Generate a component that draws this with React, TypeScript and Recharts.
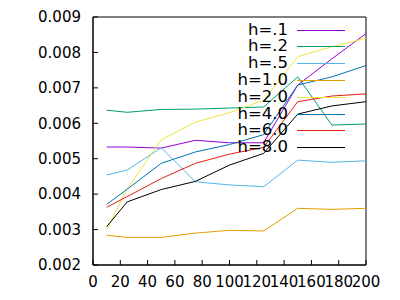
import { LineChart, Line, XAxis, YAxis, Legend, ReferenceArea } from "recharts"

// x positions of the samples
const xs = [10, 25, 50, 75, 100, 125, 150, 175, 200]

// one series per h value
const h01 = [0.00533, 0.00533, 0.0053, 0.00552, 0.00545, 0.00545, 0.00708, 0.00782, 0.00853]
const h02 = [0.00637, 0.00631, 0.00639, 0.0064, 0.00643, 0.00646, 0.00731, 0.00595, 0.00598]
const h05 = [0.00454, 0.00468, 0.00531, 0.00435, 0.00426, 0.00421, 0.00496, 0.0049, 0.00494]
const h10 = [0.00284, 0.00278, 0.00278, 0.0029, 0.00298, 0.00296, 0.0036, 0.00357, 0.0036]
const h20 = [0.00299, 0.00415, 0.00553, 0.00603, 0.0063, 0.00665, 0.00788, 0.00816, 0.0084]
const h40 = [0.00371, 0.00414, 0.00487, 0.00519, 0.0054, 0.00568, 0.00708, 0.00731, 0.00763]
const h60 = [0.00363, 0.00393, 0.00444, 0.00487, 0.00513, 0.00532, 0.00661, 0.00677, 0.00683]
const h80 = [0.00308, 0.00378, 0.00413, 0.00436, 0.00482, 0.00515, 0.00626, 0.00649, 0.00661]

const xTicks = [0, 20, 40, 60, 80, 100, 120, 140, 160, 180, 200]
const yTicks = [0.002, 0.003, 0.004, 0.005, 0.006, 0.007, 0.008, 0.009]

const SERIES = [
  { key: "h01", name: "h=.1", color: "#9400d3", values: h01 },
  { key: "h02", name: "h=.2", color: "#009e73", values: h02 },
  { key: "h05", name: "h=.5", color: "#56b4e9", values: h05 },
  { key: "h10", name: "h=1.0", color: "#e69f00", values: h10 },
  { key: "h20", name: "h=2.0", color: "#f0e442", values: h20 },
  { key: "h40", name: "h=4.0", color: "#0072b2", values: h40 },
  { key: "h60", name: "h=6.0", color: "#e51e10", values: h60 },
  { key: "h80", name: "h=8.0", color: "#000000", values: h80 },
]

const data = xs.map((x, i) => {
  const row: Record<string, number> = { x }
  SERIES.forEach((s) => {
    row[s.key] = s.values[i]
  })
  return row
})

const FONT = "'DejaVu Sans', sans-serif"
const tickStyle = { fill: "#000", fontSize: 15, fontFamily: FONT }

// gnuplot style key: right-aligned labels, short line samples
function GnuKey({ payload }: any) {
  const items = payload || []
  return (
    <div style={{ position: "relative", width: 400, height: 300, fontFamily: FONT }}>
      {items.map((p: any, i: number) => {
        const cy = 29.5 + 16.8 * i
        return (
          <div key={p.value}>
            <div
              style={{
                position: "absolute",
                left: 0,
                width: 288,
                top: cy - 10,
                height: 20,
                lineHeight: "20px",
                textAlign: "right",
                fontSize: 16.5,
                color: "#000",
                whiteSpace: "nowrap",
              }}
            >
              {p.value}
            </div>
            <div
              style={{
                position: "absolute",
                left: 297,
                width: 48,
                top: cy,
                height: 0,
                borderTop: `1px solid ${p.color}`,
              }}
            />
          </div>
        )
      })}
    </div>
  )
}

export default function App() {
  return (
    <div style={{ position: "absolute", left: 0, top: 0, width: 400, height: 300, background: "#fff" }}>
      <LineChart width={400} height={300} data={data} margin={{ top: 17, right: 34, bottom: 0, left: 0 }}>
        <XAxis
          dataKey="x"
          type="number"
          domain={[0, 200]}
          ticks={xTicks}
          interval={0}
          height={35}
          tickSize={-5}
          tickMargin={16}
          tick={tickStyle}
          stroke="#000"
          allowDataOverflow
        />
        <XAxis
          xAxisId="top"
          orientation="top"
          type="number"
          domain={[0, 200]}
          ticks={xTicks}
          interval={0}
          height={0}
          tickSize={-5}
          tick={false}
          stroke="#000"
          allowDataOverflow
        />
        <YAxis
          type="number"
          domain={[0.002, 0.009]}
          ticks={yTicks}
          interval={0}
          width={93}
          tickSize={-5}
          tickMargin={17}
          tick={tickStyle}
          tickFormatter={(v: number) => v.toFixed(3)}
          stroke="#000"
          allowDataOverflow
        />
        <YAxis
          yAxisId="right"
          orientation="right"
          type="number"
          domain={[0.002, 0.009]}
          ticks={yTicks}
          interval={0}
          width={0}
          tickSize={-5}
          tick={false}
          stroke="#000"
          allowDataOverflow
        />
        {/* plot border box */}
        <ReferenceArea x1={0} x2={200} y1={0.002} y2={0.009} fill="none" stroke="#000" strokeWidth={1} />
        <Legend
          layout="horizontal"
          verticalAlign="middle"
          align="center"
          content={<GnuKey />}
          wrapperStyle={{ position: "absolute", left: 0, top: 0, width: 400, height: 300 }}
        />
        {SERIES.map((s) => (
          <Line
            key={s.key}
            dataKey={s.key}
            name={s.name}
            type="linear"
            stroke={s.color}
            strokeWidth={1}
            dot={false}
            activeDot={false}
            isAnimationActive={false}
          />
        ))}
      </LineChart>
    </div>
  )
}
